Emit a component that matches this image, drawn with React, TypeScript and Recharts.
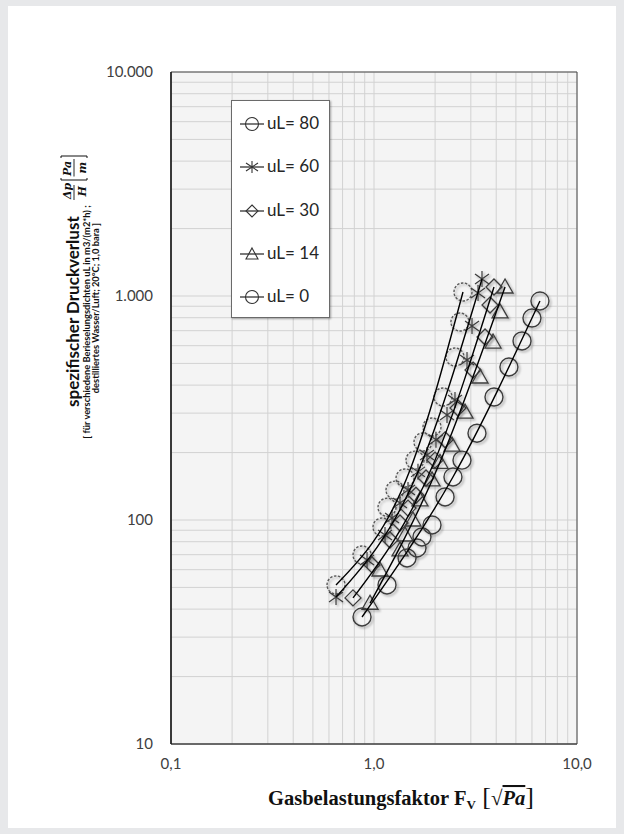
import React from 'react';
import { ScatterChart, Scatter, XAxis, YAxis, CartesianGrid, ReferenceArea, Legend } from 'recharts';

// ---------- data ----------
const fv80 = [0.65, 0.873, 1.095, 1.159, 1.269, 1.422, 1.592, 1.743, 1.931, 2.188, 2.506, 2.65, 2.744];
const dp80 = [51.3, 69.8, 93, 114, 136, 154, 185, 223, 260, 354, 534, 765, 1042];

const fv60 = [0.65, 0.924, 1.133, 1.227, 1.343, 1.471, 1.647, 1.824, 2.02, 2.289, 2.506, 2.872, 3.04, 3.254, 3.404];
const dp60 = [45.3, 66.3, 85.7, 102, 119, 136, 164, 195, 228, 294, 343, 518, 735, 1031, 1191];

const fv30 = [0.788, 0.978, 1.199, 1.343, 1.471, 1.61, 1.804, 1.998, 2.239, 2.593, 3.075, 3.524, 3.729, 3.9];
const dp30 = [44.9, 63.0, 81.4, 97, 113, 129, 154, 185, 228, 316, 467, 656, 912, 1097];

const fv14 = [0.956, 1.07, 1.343, 1.422, 1.556, 1.685, 1.931, 2.114, 2.423, 2.808, 3.329, 3.858, 4.178, 4.421];
const dp14 = [42.5, 59.8, 73.5, 85.7, 100, 123, 151, 181, 216, 303, 435, 623, 849, 1097];

const fv0 = [0.873, 1.159, 1.455, 1.629, 1.723, 1.931, 2.239, 2.449, 2.713, 3.216, 3.9, 4.62, 5.36, 6.0, 6.57];
const dp0 = [36.9, 51.3, 67.7, 75.0, 84.0, 95.0, 126.7, 155.6, 185, 244, 354, 482, 630, 797, 950];

// trend curves
const trendFv80 = [0.65, 1.504, 2.744];
const trendDp80 = [51.3, 167, 1042];
const trendFv60 = [0.65, 1.647, 3.404];
const trendDp60 = [45.3, 164, 1191];
const trendFv30 = [0.788, 1.998, 3.9];
const trendDp30 = [44.9, 185, 1097];
const trendFv14 = [0.956, 2.114, 4.421];
const trendDp14 = [42.5, 181, 1097];
const trendFv0 = [0.873, 2.449, 6.57];
const trendDp0 = [36.9, 155.6, 950];

const seriesNames = ['uL= 80', 'uL= 60', 'uL= 30', 'uL= 14', 'uL= 0'];

const xTicks = [0.1, 0.2, 0.3, 0.4, 0.5, 0.6, 0.7, 0.8, 0.9, 1, 2, 3, 4, 5, 6, 7, 8, 9, 10];
const yTicks = [10, 20, 30, 40, 50, 60, 70, 80, 90, 100, 200, 300, 400, 500, 600, 700, 800, 900,
  1000, 2000, 3000, 4000, 5000, 6000, 7000, 8000, 9000, 10000];
const xLabels: Record<string, string> = { '0.1': '0,1', '1': '1,0', '10': '10,0' };
const yLabels: Record<string, string> = { '10': '10', '100': '100', '1000': '1.000', '10000': '10.000' };

const pts = (xs: number[], ys: number[]) => xs.map((x, i) => ({ x, y: ys[i] }));

// ---------- marker shapes ----------
const MK = '#3c3c3c';
const SHADOW = 'url(#mkShadow)';

const circleShape = (color: string, dash?: string) => (p: any) => {
  const { cx, cy } = p;
  return (
    <g filter={SHADOW}>
      <circle cx={cx} cy={cy} r={9} fill="none" stroke={color} strokeWidth={1.4} strokeDasharray={dash} />
    </g>
  );
};

const starPath = (cx: number, cy: number) =>
  `M${cx},${cy - 8}L${cx},${cy + 8}M${cx - 7},${cy - 5}L${cx + 7},${cy + 5}M${cx - 7},${cy + 5}L${cx + 7},${cy - 5}`;
const starShape = (p: any) => {
  const { cx, cy } = p;
  return (
    <g filter={SHADOW}>
      <path d={starPath(cx, cy)} stroke={MK} strokeWidth={1.2} fill="none" />
    </g>
  );
};

const diamondPath = (cx: number, cy: number) =>
  `M${cx},${cy - 8}L${cx + 8},${cy}L${cx},${cy + 8}L${cx - 8},${cy}Z`;
const diamondShape = (p: any) => {
  const { cx, cy } = p;
  return (
    <g filter={SHADOW}>
      <path d={diamondPath(cx, cy)} stroke={MK} strokeWidth={1.3} fill="none" />
    </g>
  );
};

const triPath = (cx: number, cy: number) =>
  `M${cx},${cy - 8}L${cx + 8},${cy + 6}L${cx - 8},${cy + 6}Z`;
const triShape = (p: any) => {
  const { cx, cy } = p;
  return (
    <g filter={SHADOW}>
      <path d={triPath(cx, cy)} stroke={MK} strokeWidth={1.3} fill="none" />
    </g>
  );
};

const noShape = () => <g />;

// ---------- legend ----------
const legendMarker = (i: number) => {
  const cx = 20, cy = 10;
  const line = <line x1={8} x2={32} y1={cy} y2={cy} stroke="#222" strokeWidth={1.2} />;
  let m: React.ReactNode = null;
  if (i === 0) m = <circle cx={cx} cy={cy} r={6.5} fill="none" stroke="#333" strokeWidth={1.1} />;
  if (i === 1) m = <path d={`M${cx},${cy - 6}L${cx},${cy + 6}M${cx - 6},${cy - 4}L${cx + 6},${cy + 4}M${cx - 6},${cy + 4}L${cx + 6},${cy - 4}`} stroke="#333" strokeWidth={1.1} fill="none" />;
  if (i === 2) m = <path d={`M${cx},${cy - 6}L${cx + 6},${cy}L${cx},${cy + 6}L${cx - 6},${cy}Z`} stroke="#333" strokeWidth={1.1} fill="none" />;
  if (i === 3) m = <path d={`M${cx},${cy - 6}L${cx + 6},${cy + 5}L${cx - 6},${cy + 5}Z`} stroke="#333" strokeWidth={1.1} fill="none" />;
  if (i === 4) m = <circle cx={cx} cy={cy} r={6.5} fill="none" stroke="#333" strokeWidth={1.1} />;
  return (
    <svg width={40} height={20} style={{ position: 'absolute', left: 0, top: -10 }}>
      {line}
      {m}
    </svg>
  );
};

const LegendBox = () => (
  <div
    style={{
      position: 'relative',
      width: 99,
      height: 218,
      background: '#fff',
      border: '1px solid #6a6a6a',
      boxSizing: 'border-box',
      boxShadow: '1px 1px 2px rgba(0,0,0,0.35)',
      fontFamily: 'Lato, sans-serif',
      fontSize: 17,
      color: '#262626',
    }}
  >
    {seriesNames.map((n, i) => (
      <div key={n} style={{ position: 'absolute', left: 0, top: 23 + i * 43.3, width: 99 }}>
        {legendMarker(i)}
        <span style={{ position: 'absolute', left: 35, top: -11, whiteSpace: 'nowrap', lineHeight: '20px' }}>{n}</span>
      </div>
    ))}
  </div>
);

// ---------- titles ----------
const Titles = () => (
  <svg width={624} height={834} style={{ position: 'absolute', left: 0, top: 0, pointerEvents: 'none' }}>
    <defs>
      <filter id="mkShadow" x="-50%" y="-50%" width="200%" height="200%">
        <feDropShadow dx={1.6} dy={1.6} stdDeviation={1} floodColor="#000" floodOpacity={0.35} />
      </filter>
    </defs>
    {/* y title */}
    <text
      transform="translate(79,407) rotate(-90)"
      textAnchor="start"
      fontFamily="Lato, sans-serif"
      fontWeight={700}
      fontSize={17}
      fill="#111"
    >
      spezifischer Druckverlust
    </text>
    <g transform="translate(79,200) rotate(-90)" fontFamily="'DejaVu Serif', serif" fontStyle="italic" fontWeight={700} fill="#111">
      <text x={1} y={-8} fontSize={11}>Δp</text>
      <line x1={0} x2={15} y1={-5} y2={-5} stroke="#111" strokeWidth={0.9} />
      <text x={3.5} y={6.5} fontSize={11}>H</text>
      <path d="M22,-18 L20,-18 L20,8 L22,8" stroke="#111" strokeWidth={1} fill="none" />
      <text x={24} y={-8} fontSize={11}>Pa</text>
      <line x1={23.5} x2={41} y1={-5} y2={-5} stroke="#111" strokeWidth={0.9} />
      <text x={26.5} y={6.5} fontSize={11}>m</text>
      <path d="M42,-18 L44,-18 L44,8 L42,8" stroke="#111" strokeWidth={1} fill="none" />
    </g>
    <text
      transform="translate(89.5,322) rotate(-90)"
      textAnchor="middle"
      fontFamily="Lato, sans-serif"
      fontWeight={700}
      fontSize={9.3}
      fill="#111"
    >
      [ für verschiedene Berieselungsdichten uL in m3/(m2*h) ;
    </text>
    <text
      transform="translate(98.5,223) rotate(-90)"
      textAnchor="end"
      fontFamily="Lato, sans-serif"
      fontWeight={700}
      fontSize={9.3}
      fill="#111"
    >
      destilliertes Wasser/Luft; 20°C; 1,0 bara ]
    </text>
    {/* x title */}
    <text x={401} y={805} textAnchor="middle" fontFamily="'Liberation Serif', serif" fontWeight={700} fontSize={20.5} fill="#111">
      Gasbelastungsfaktor F
      <tspan fontSize={13} dy={4}>V</tspan>
      <tspan dy={-4} fontSize={26} fontWeight={400}> [</tspan>
      <tspan fontSize={21} fontWeight={400}>√</tspan>
      <tspan fontStyle="italic" style={{ textDecoration: 'overline' }}>Pa</tspan>
      <tspan fontSize={26} fontWeight={400}>]</tspan>
    </text>
  </svg>
);

export default function App() {
  return (
    <div style={{ position: 'absolute', left: 0, top: 0, width: 624, height: 834, background: '#e7e8ea' }}>
      <div style={{ position: 'absolute', left: 8, top: 6, width: 608, height: 822, background: '#ffffff' }} />
      <div style={{ position: 'absolute', left: 0, top: 0 }}>
        <ScatterChart width={624} height={834} margin={{ top: 72, right: 47, bottom: 60, left: 0 }}>
          <CartesianGrid stroke="#d2d2d2" strokeWidth={1} fill="#f4f4f4" />
          <XAxis
            dataKey="x"
            type="number"
            scale="log"
            domain={[0.1, 10]}
            ticks={xTicks}
            interval={0}
            allowDataOverflow
            height={30}
            tickLine={false}
            tickSize={6}
            tickMargin={8}
            axisLine={{ stroke: '#3a3a3a', strokeWidth: 1 }}
            tick={{ fill: '#404040', fontSize: 15, fontFamily: 'Lato, sans-serif' }}
            tickFormatter={(v: number) => xLabels[String(v)] ?? ''}
          />
          <YAxis
            dataKey="y"
            type="number"
            scale="log"
            domain={[10, 10000]}
            ticks={yTicks}
            interval={0}
            allowDataOverflow
            width={171}
            tickLine={false}
            tickSize={6}
            tickMargin={12}
            axisLine={{ stroke: '#1a1a1a', strokeWidth: 1.5 }}
            tick={{ fill: '#404040', fontSize: 15, fontFamily: 'Lato, sans-serif' }}
            tickFormatter={(v: number) => yLabels[String(v)] ?? ''}
          />
          <ReferenceArea x1={0.1} x2={10} y1={10} y2={10000} fill="none" stroke="#4a4a4a" strokeWidth={1} ifOverflow="visible" />

          <Scatter name="uL= 80" data={pts(fv80, dp80)} shape={circleShape('#5a5a5a', '2.5 1.5')} isAnimationActive={false} />
          <Scatter name="uL= 60" data={pts(fv60, dp60)} shape={starShape} isAnimationActive={false} />
          <Scatter name="uL= 30" data={pts(fv30, dp30)} shape={diamondShape} isAnimationActive={false} />
          <Scatter name="uL= 14" data={pts(fv14, dp14)} shape={triShape} isAnimationActive={false} />
          <Scatter name="uL= 0" data={pts(fv0, dp0)} shape={circleShape(MK)} isAnimationActive={false} />

          <Scatter data={pts(trendFv80, trendDp80)} shape={noShape} line={{ stroke: '#000', strokeWidth: 1.4 }} lineJointType="monotoneX" legendType="none" isAnimationActive={false} />
          <Scatter data={pts(trendFv60, trendDp60)} shape={noShape} line={{ stroke: '#000', strokeWidth: 1.4 }} lineJointType="monotoneX" legendType="none" isAnimationActive={false} />
          <Scatter data={pts(trendFv30, trendDp30)} shape={noShape} line={{ stroke: '#000', strokeWidth: 1.4 }} lineJointType="monotoneX" legendType="none" isAnimationActive={false} />
          <Scatter data={pts(trendFv14, trendDp14)} shape={noShape} line={{ stroke: '#000', strokeWidth: 1.4 }} lineJointType="monotoneX" legendType="none" isAnimationActive={false} />
          <Scatter data={pts(trendFv0, trendDp0)} shape={noShape} line={{ stroke: '#000', strokeWidth: 1.4 }} lineJointType="monotoneX" legendType="none" isAnimationActive={false} />

          <Legend
            layout="vertical"
            align="center"
            verticalAlign="middle"
            content={() => <LegendBox />}
            wrapperStyle={{ position: 'absolute', left: 231, top: 100, width: 99, height: 218 }}
          />
        </ScatterChart>
      </div>
      <Titles />
    </div>
  );
}
